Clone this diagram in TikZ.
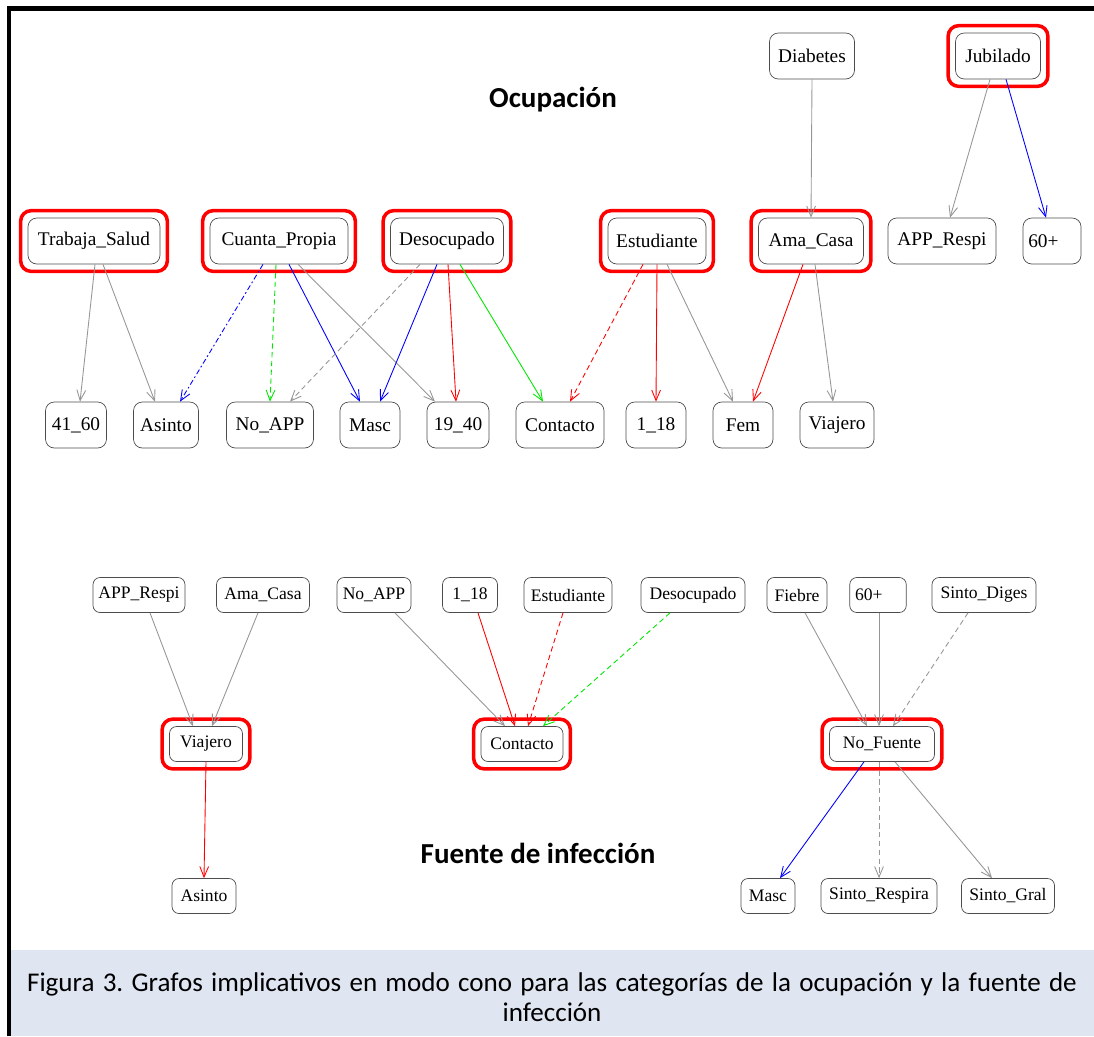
\documentclass[tikz,border=0pt]{standalone}
\usepackage{fontspec}
\setmainfont{Liberation Serif}
\newfontfamily\calibri{Carlito}
\usepackage{tikz}
\usetikzlibrary{positioning,calc,fit,arrows.meta}
\definecolor{lima}{RGB}{0,230,0}
\definecolor{gris}{RGB}{150,150,150}
\definecolor{fondopie}{RGB}{223,229,241}
\frenchspacing
\tikzset{
  var/.style={draw=black!70, rounded corners=5pt, minimum height=0.92cm, inner xsep=3pt, font=\fontsize{11}{13}\selectfont},
  varf/.style={var, rounded corners=4pt, minimum height=0.70cm, font=\fontsize{10}{12}\selectfont},
  marco/.style={draw=red, line width=2pt, rounded corners=6pt, inner sep=4pt},
  arco/.style={-{Straight Barb[length=6pt,width=5pt]}, line width=0.5pt},
  titulo/.style={font=\calibri\bfseries\fontsize{16.5}{20}\selectfont}
}

\begin{document}
\begin{tikzpicture}[x=0.02cm, y=-0.02cm]
    \useasboundingbox (0,0) rectangle (1094,1036);
    % Caption and frame
    \fill[fondopie] (11,950) rectangle (1094,1036);
    \draw[line width=2.8pt] (9,1036) -- (9,8.5) -- (1094,8.5);
    \node[align=center, font=\calibri\fontsize{15.4}{17}\selectfont] (pie) at (552,997)
        {\makebox[21cm][s]{Figura 3. Grafos implicativos en modo cono para las categorías de la ocupación y la fuente de}\\infección};

    % Titles
    \node[titulo] (tocup) at (553,100) {Ocupación};
    \node[titulo] (tfuente) at (538,853) {Fuente de infección};

    % Ocupacion: upper nodes
    \node[var, minimum width=1.70cm] (dia) at (812,56) {Diabetes};
    \node[var, minimum width=1.70cm] (jub) at (998,56) {Jubilado};
    \node[var, minimum width=2.64cm] (ts) at (94,241) {Trabaja\_Salud};
    \node[var, minimum width=2.76cm] (cp) at (279,241) {Cuanta\_Propia};
    \node[var, minimum width=2.26cm] (des) at (447,241) {Desocupado};
    \node[var, minimum width=1.96cm] (est) at (657,241) {Estudiante};
    \node[var, minimum width=2.10cm] (ama) at (811,241) {Ama\_Casa};
    \node[var, minimum width=2.16cm] (app) at (942,241) {APP\_Respi};
    \node[var, text width=0.95cm, align=left] (sesenta) at (1052,241) {60+};

    % Ocupacion: lower nodes
    \node[var, minimum width=1.22cm] (e4160) at (76,425) {41\_60};
    \node[var, minimum width=1.30cm] (asi) at (166,425) {Asinto};
    \node[var, minimum width=1.74cm] (noapp) at (270,425) {No\_APP};
    \node[var, minimum width=1.20cm] (masc) at (370,425) {Masc};
    \node[var, minimum width=1.24cm] (e1940) at (458,425) {19\_40};
    \node[var, minimum width=1.76cm] (con) at (560,425) {Contacto};
    \node[var, minimum width=1.20cm] (e118) at (656,425) {1\_18};
    \node[var, minimum width=1.20cm] (fem) at (743,425) {Fem};
    \node[var, minimum width=1.48cm] (via) at (837,425) {Viajero};

    % red frames
    \node[marco, fit=(jub)] (jub-m) {};
    \node[marco, fit=(ts)] (ts-m) {};
    \node[marco, fit=(cp)] (cp-m) {};
    \node[marco, fit=(des)] (des-m) {};
    \node[marco, fit=(est)] (est-m) {};
    \node[marco, fit=(ama)] (ama-m) {};

    % Ocupacion: arrows
    \draw[arco, gris] ($(ts.south)+(1,0)$) -- ($(e4160.north)+(4,0)$);
    \draw[arco, gris] ($(ts.south)+(9,0)$) -- ($(asi.north)+(-11,0)$);
    \draw[arco, blue, dash pattern=on 3pt off 1.5pt on 1pt off 1.5pt] ($(cp.south)+(-16,0)$) -- ($(asi.north)+(14,0)$);
    \draw[arco, lima, densely dashed] ($(cp.south)+(-3,0)$) -- (noapp.north);
    \draw[arco, blue] ($(cp.south)+(10,0)$) -- ($(masc.north)+(-10,0)$);
    \draw[arco, gris] ($(cp.south)+(19,0)$) -- ($(e1940.north)+(-23,0)$);
    \draw[arco, gris, densely dashed] ($(des.south)+(-27,0)$) -- ($(noapp.north)+(20,0)$);
    \draw[arco, blue] ($(des.south)+(-10,0)$) -- ($(masc.north)+(10,0)$);
    \draw[arco, red] ($(des.south)+(1,0)$) -- ($(e1940.north)+(-2,0)$);
    \draw[arco, lima] ($(des.south)+(13,0)$) -- ($(con.north)+(-17,0)$);
    \draw[arco, red, densely dashed] ($(est.south)+(-14,0)$) -- ($(con.north)+(10,0)$);
    \draw[arco, red] (est.south) -- (e118.north);
    \draw[arco, gris] ($(est.south)+(10,0)$) -- ($(fem.north)+(-10,0)$);
    \draw[arco, red] ($(ama.south)+(-8,0)$) -- ($(fem.north)+(10,0)$);
    \draw[arco, gris] ($(ama.south)+(4,0)$) -- ($(via.north)+(-4,0)$);
    \draw[arco, gris] (dia.south) -- (ama.north);
    \draw[arco, gris] ($(jub.south)+(-8,0)$) -- ($(app.north)+(8,0)$);
    \draw[arco, blue] ($(jub.south)+(8,0)$) -- ($(sesenta.north)+(-6,0)$);

    % Fuente de infeccion: nodes
    \node[varf, minimum width=1.84cm] (fapp) at (139,595) {APP\_Respi};
    \node[varf, minimum width=1.86cm] (fama) at (263,595) {Ama\_Casa};
    \node[varf, minimum width=1.48cm] (fnoapp) at (374,595) {No\_APP};
    \node[varf, minimum width=1.10cm] (f118) at (470,595) {1\_18};
    \node[varf, minimum width=1.76cm] (fest) at (568,595) {Estudiante};
    \node[varf, minimum width=2.08cm] (fdes) at (693,595) {Desocupado};
    \node[varf, minimum width=1.20cm] (ffie) at (797,595) {Fiebre};
    \node[varf, text width=0.92cm, align=left] (f60) at (878,595) {60+};
    \node[varf, minimum width=2.08cm] (fdig) at (984,595) {Sinto\_Diges};
    \node[varf, minimum width=1.46cm] (fvia) at (206,744) {Viajero};
    \node[varf, minimum width=1.64cm] (fcon) at (522,744) {Contacto};
    \node[varf, minimum width=2.10cm] (fnof) at (882,744) {No\_Fuente};
    \node[varf, minimum width=1.28cm] (fasi) at (204,896) {Asinto};
    \node[varf, minimum width=1.08cm] (fmasc) at (768,896) {Masc};
    \node[varf, minimum width=2.32cm] (fresp) at (879,896) {Sinto\_Respira};
    \node[varf, minimum width=1.86cm] (fgral) at (1008,896) {Sinto\_Gral};

    \node[marco, fit=(fvia)] (fvia-m) {};
    \node[marco, fit=(fcon)] (fcon-m) {};
    \node[marco, fit=(fnof)] (fnof-m) {};

    % Fuente de infeccion: arrows
    \draw[arco, gris] ($(fapp.south)+(11,0)$) -- ($(fvia.north)+(-13,0)$);
    \draw[arco, gris] ($(fama.south)+(-5,0)$) -- ($(fvia.north)+(6,0)$);
    \draw[arco, gris] ($(fnoapp.south)+(21,0)$) -- ($(fcon.north)+(-17,0)$);
    \draw[arco, red] ($(f118.south)+(8,0)$) -- ($(fcon.north)+(-7,0)$);
    \draw[arco, red, densely dashed] ($(fest.south)+(-5,0)$) -- ($(fcon.north)+(6,0)$);
    \draw[arco, lima, densely dashed] ($(fdes.south)+(-23,0)$) -- ($(fcon.north)+(21,0)$);
    \draw[arco, red] (fvia.south) -- (fasi.north);
    \draw[arco, gris] ($(ffie.south)+(8,0)$) -- ($(fnof.north)+(-15,0)$);
    \draw[arco, gris] ($(f60.south)+(1,0)$) -- ($(fnof.north)+(-3,0)$);
    \draw[arco, gris, densely dashed] ($(fdig.south)+(-16,0)$) -- ($(fnof.north)+(11,0)$);
    \draw[arco, blue] ($(fnof.south)+(-18,0)$) -- ($(fmasc.north)+(12,0)$);
    \draw[arco, gris, densely dashed] ($(fnof.south)+(-3,0)$) -- (fresp.north);
    \draw[arco, gris] ($(fnof.south)+(13,0)$) -- ($(fgral.north)+(-16,0)$);
\end{tikzpicture}
\end{document}
